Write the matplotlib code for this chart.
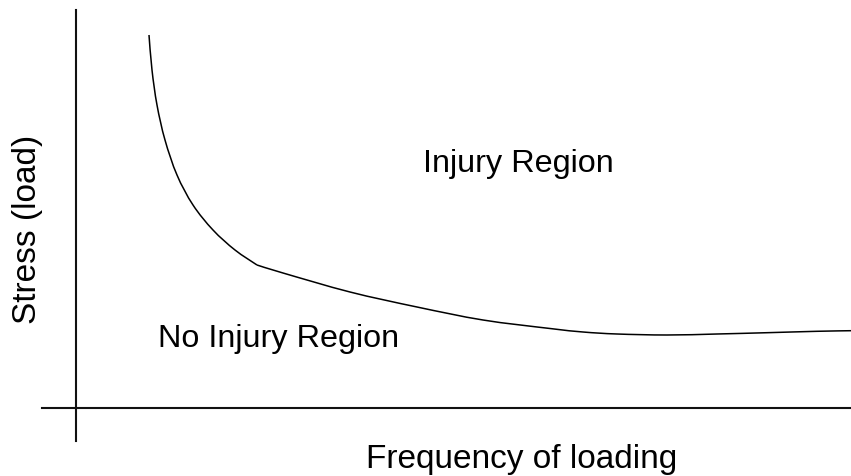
import matplotlib
matplotlib.use("Agg")
import matplotlib.pyplot as plt
import numpy as np
from matplotlib.path import Path
from matplotlib.patches import PathPatch

plt.rcParams['font.family'] = ['Liberation Sans', 'DejaVu Sans']

# Schematic data (arbitrary units: frequency of loading vs stress)
hyper_freq = [73, 76, 81, 89, 101, 117, 137, 159, 181]
hyper_stress = [373, 338, 303, 268, 233, 203, 178, 158, 143]
tail_freq = [181, 207, 274, 341, 407, 474, 507, 541, 591, 641, 691, 741, 775]
tail_stress = [143, 135, 116, 101, 88, 79.5, 76, 74, 73, 74, 75.3, 76.7, 77.3]

x_label = "Frequency of loading"
y_label = "Stress (load)"
upper_label = "Injury Region"
lower_label = "No Injury Region"


def smooth_path(xs, ys):
    """Catmull-Rom curve through the given points, as cubic Bezier segments."""
    p = np.column_stack([xs, ys]).astype(float)
    n = len(p)
    verts = [p[0]]
    codes = [Path.MOVETO]
    for i in range(n - 1):
        p0 = p[i - 1] if i > 0 else p[i]
        p1 = p[i]
        p2 = p[i + 1]
        p3 = p[i + 2] if i + 2 < n else p[i + 1]
        c1 = p1 + (p2 - p0) / 6.0
        c2 = p2 - (p3 - p1) / 6.0
        verts += [c1, c2, p2]
        codes += [Path.CURVE4] * 3
    return Path(verts, codes)


fig = plt.figure(figsize=(8.51, 4.76), dpi=100)
ax = fig.add_axes([0, 0, 1, 1])
ax.set_xlim(-76, 775)
ax.set_ylim(-68, 408)

for xs, ys in [(hyper_freq, hyper_stress), (tail_freq, tail_stress)]:
    ax.add_patch(PathPatch(smooth_path(xs, ys), facecolor='none',
                           edgecolor='black', lw=1.1, capstyle='butt'))

for s in ['top', 'right']:
    ax.spines[s].set_visible(False)
ax.spines['left'].set_position(('data', 0))
ax.spines['left'].set_bounds(-33, 398)
ax.spines['bottom'].set_position(('data', 0))
ax.spines['bottom'].set_bounds(-34, 775)
for s in ['left', 'bottom']:
    ax.spines[s].set_linewidth(1.5)
    ax.spines[s].set_color('#111111')
ax.set_xticks([])
ax.set_yticks([])
ax.patch.set_visible(False)

fs = 23.3
ax.text(442, 236, upper_label, fontsize=fs, ha='center', va='baseline')
ax.text(203, 61, lower_label, fontsize=fs, ha='center', va='baseline')
ax.text(446, -60, x_label, fontsize=24, ha='center', va='baseline')
ax.text(-48, 178.5, y_label, fontsize=24, ha='center', va='center', rotation=90)

fig.savefig("out.png", dpi=100)
